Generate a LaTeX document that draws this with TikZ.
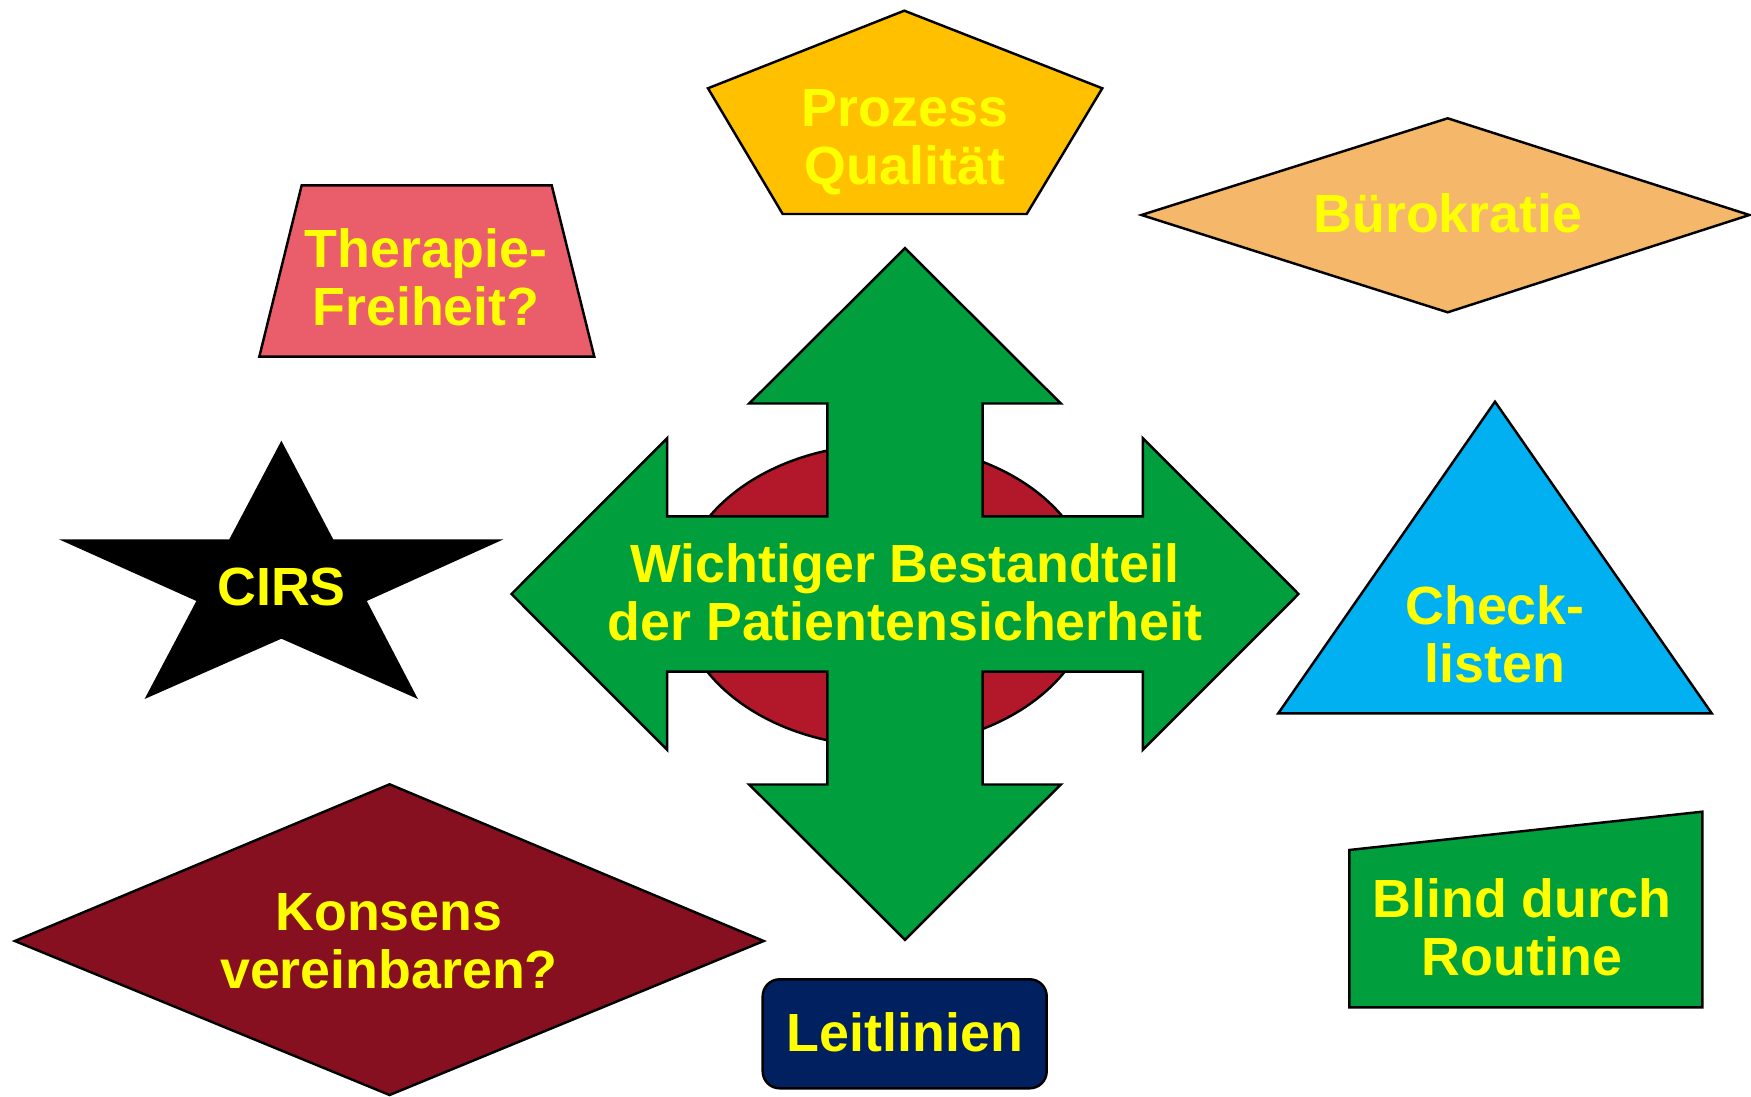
\documentclass[tikz,border=0pt]{standalone}
\usepackage{fontspec}
\setmainfont{Liberation Sans}
\usepackage{tikz}
\usetikzlibrary{arrows}
\definecolor{gelb}{RGB}{255,255,0}
\definecolor{orangegelb}{RGB}{255,192,0}
\definecolor{rosa}{RGB}{234,94,108}
\definecolor{sand}{RGB}{245,184,106}
\definecolor{gruen}{RGB}{0,158,61}
\definecolor{rot}{RGB}{178,24,41}
\definecolor{himmel}{RGB}{0,176,240}
\definecolor{weinrot}{RGB}{134,16,32}
\definecolor{marine}{RGB}{0,32,96}

\begin{document}
\begin{tikzpicture}[shp/.style={draw=black,line width=0.7pt},
  lbl/.style={text=gelb,align=center,font=\bfseries\fontsize{15.3}{16.6}\selectfont}]
\useasboundingbox (0,0) rectangle (17.51,10.96);
\fill[white] (0,0) rectangle (17.51,10.96);

\draw[shp,fill=orangegelb] (9.043,10.853) -- (11.023,10.077) -- (10.267,8.82) -- (7.827,8.82) -- (7.08,10.077) -- cycle;
\node[lbl] (prozess) at (9.05,9.52) {\strut Prozess\\\strut Qualität};

\draw[shp,fill=rosa] (3.017,9.107) -- (5.517,9.107) -- (5.943,7.393) -- (2.593,7.393) -- cycle;
\node[lbl] (therapie) at (4.26,8.11) {\strut Therapie-\\\strut Freiheit?};

\draw[shp,fill=sand] (11.415,8.81) -- (14.477,9.777) -- (17.494,8.81) -- (14.477,7.837) -- cycle;
\node[lbl] (buero) at (14.48,8.75) {\strut Bürokratie};

\fill[black] (2.814,6.553) -- (3.332,5.567) -- (5.036,5.567) -- (3.668,4.95) -- (4.179,3.97) -- (2.814,4.573)
  -- (1.446,3.97) -- (1.964,4.95) -- (0.589,5.567) -- (2.293,5.567) -- cycle;
\node[lbl] (cirs) at (2.816,5.02) {\strut CIRS};

\draw[shp,fill=rot] (8.86,5.006) ellipse (2.07 and 1.51);
\draw[shp,fill=gruen] (9.05,8.478) -- (10.608,6.925) -- (9.827,6.925) -- (9.827,5.797) -- (11.429,5.797) -- (11.429,6.578)
  -- (12.985,5.02) -- (11.429,3.462) -- (11.429,4.243) -- (9.827,4.243) -- (9.827,3.115) -- (10.608,3.115)
  -- (9.05,1.562) -- (7.492,3.115) -- (8.273,3.115) -- (8.273,4.243) -- (6.671,4.243) -- (6.671,3.462)
  -- (5.115,5.02) -- (6.671,6.578) -- (6.671,5.797) -- (8.273,5.797) -- (8.273,6.925) -- (7.492,6.925) -- cycle;
\node[lbl] (mitte) at (9.05,4.96) {\strut Wichtiger Bestandteil\\\strut der Patientensicherheit};

\draw[shp,fill=himmel] (14.95,6.943) -- (17.117,3.827) -- (12.783,3.827) -- cycle;
\node[lbl] (check) at (14.95,4.54) {\strut Check-\\\strut listen};

\draw[shp,fill=gruen] (13.493,2.46) -- (17.023,2.843) -- (17.023,0.887) -- (13.493,0.887) -- cycle;
\node[lbl] (blind) at (15.22,1.61) {\strut Blind durch\\\strut Routine};

\draw[shp,fill=weinrot] (0.149,1.55) -- (3.896,3.117) -- (7.637,1.55) -- (3.896,0.01) -- cycle;
\node[lbl] (konsens) at (3.89,1.485) {\strut Konsens\\\strut vereinbaren?};

\draw[shp,fill=marine,rounded corners=0.17cm] (7.627,0.077) rectangle (10.467,1.167);
\node[lbl] (leit) at (9.05,0.56) {\strut Leitlinien};

\end{tikzpicture}
\end{document}
